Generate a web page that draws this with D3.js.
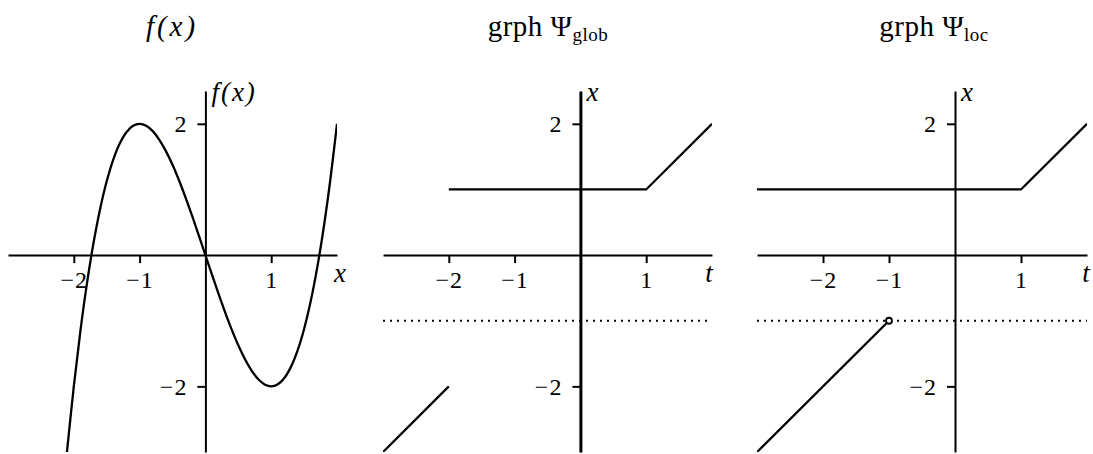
<!DOCTYPE html>
<html>
<head>
<meta charset="utf-8">
<script src="https://cdn.jsdelivr.net/npm/d3@7"></script>
<style>
  html, body { margin: 0; padding: 0; background: #fff; }
  svg { display: block; }
  text { font-family: "Liberation Serif", "DejaVu Serif", serif; fill: #000; }
  .it { font-style: italic; }
</style>
</head>
<body>
<svg id="chart" width="1093" height="454"></svg>
<script>
// Samples of f(x) = x^3 - 3x (left panel)
const curveX = [-2.11, -2.0, -1.9, -1.8, -1.7, -1.6, -1.5, -1.4, -1.3, -1.2, -1.1, -1.0,
  -0.9, -0.8, -0.7, -0.6, -0.5, -0.4, -0.3, -0.2, -0.1, 0,
  0.1, 0.2, 0.3, 0.4, 0.5, 0.6, 0.7, 0.8, 0.9, 1.0,
  1.1, 1.2, 1.3, 1.4, 1.5, 1.6, 1.7, 1.8, 1.9, 2.0];
const curveY = [-3.06, -2, -1.159, -0.432, 0.187, 0.704, 1.125, 1.456, 1.703, 1.872, 1.969, 2,
  1.971, 1.888, 1.757, 1.584, 1.375, 1.136, 0.873, 0.592, 0.299, 0,
  -0.299, -0.592, -0.873, -1.136, -1.375, -1.584, -1.757, -1.888, -1.971, -2,
  -1.969, -1.872, -1.703, -1.456, -1.125, -0.704, -0.187, 0.432, 1.159, 2];

// Graph of the global selection (middle panel)
const globUpperT = [-2, 1, 2];
const globUpperX = [1, 1, 2];
const globLowerT = [-3, -2];
const globLowerX = [-3, -2];

// Graph of the local selection (right panel)
const locUpperT = [-3, 1, 2];
const locUpperX = [1, 1, 2];
const locLowerT = [-3, -1];
const locLowerX = [-3, -1];
const locOpenT = [-1];
const locOpenX = [-1];

// Dotted reference level
const dottedLevel = -1;

const xTicks = [-2, -1, 1];
const yTicks = [2, -2];
const xDomain = [-3, 2];
const yDomain = [-3, 2.5];

const svg = d3.select("#chart");
const fmt = d => (d < 0 ? "\u2212" + Math.abs(d) : String(d));

function panel(cfg) {
  const x = d3.scaleLinear().domain(xDomain).range(cfg.xr);
  const y = d3.scaleLinear().domain(yDomain).range([452, 91]);
  const g = svg.append("g");

  const clipId = "clip" + cfg.id;
  svg.append("clipPath").attr("id", clipId).append("rect")
    .attr("x", cfg.xr[0]).attr("y", 91).attr("width", cfg.xr[1] - cfg.xr[0]).attr("height", 361);

  // x axis
  const ax = g.append("g").attr("transform", `translate(0,${y(0)})`)
    .call(d3.axisBottom(x).tickValues(xTicks).tickSize(8).tickSizeOuter(0).tickPadding(8).tickFormat(fmt));
  // y axis
  const ay = g.append("g").attr("transform", `translate(${x(0)},0)`)
    .call(d3.axisLeft(y).tickValues(yTicks).tickSize(8).tickSizeOuter(0).tickPadding(10).tickFormat(fmt));

  [ax, ay].forEach(a => {
    a.select(".domain").attr("stroke", "#000").attr("stroke-width", 2);
    a.selectAll(".tick line").attr("stroke", "#000").attr("stroke-width", 2);
    a.selectAll(".tick text").attr("font-size", 24).attr("letter-spacing", 1)
      .style("font-family", '"Liberation Serif", "DejaVu Serif", serif');
  });
  ay.select(".domain").attr("stroke-width", cfg.yAxisWidth);

  // axis names
  g.append("text").attr("class", "it").attr("x", cfg.xr[1] + cfg.xNameDx).attr("y", y(0) + 27)
    .attr("text-anchor", "middle").attr("font-size", 27).text(cfg.xName);
  g.append("text").attr("class", "it").attr("x", x(0) + 6).attr("y", 101)
    .attr("font-size", 27).attr("letter-spacing", 2).text(cfg.yName);

  // title
  const t = g.append("text").attr("x", cfg.titleX).attr("y", 36).attr("font-size", 29)
    .attr("text-anchor", "middle");
  cfg.title(t);

  const line = d3.line().x(d => x(d[0])).y(d => y(d[1]));
  return { g, x, y, line, clipId };
}

function draw(p, ts, xs, curve) {
  const pts = ts.map((t, i) => [t, xs[i]]);
  p.g.append("path").attr("clip-path", `url(#${p.clipId})`)
    .attr("d", p.line.curve(curve || d3.curveLinear)(pts))
    .attr("fill", "none").attr("stroke", "#000").attr("stroke-width", 2.3);
}

function dotted(p, xr) {
  p.g.append("line").attr("x1", xr[0]).attr("x2", xr[1])
    .attr("y1", p.y(dottedLevel)).attr("y2", p.y(dottedLevel))
    .attr("stroke", "#000").attr("stroke-width", 2).attr("stroke-dasharray", "2,5");
}

// Left: f(x)
const p1 = panel({
  id: 1, xr: [8, 337], yAxisWidth: 2, xName: "x", xNameDx: 3, yName: "f(x)", titleX: 172,
  title: t => t.append("tspan").attr("class", "it").attr("letter-spacing", 3).text("f(x)")
});
draw(p1, curveX, curveY, d3.curveCatmullRom);

// Middle: grph Ψ_glob
const p2 = panel({
  id: 2, xr: [383, 712], yAxisWidth: 3, xName: "t", xNameDx: -3, yName: "x", titleX: 548,
  title: t => {
    t.append("tspan").attr("letter-spacing", 0.5).text("grph \u03A8");
    t.append("tspan").attr("font-size", 19).attr("dy", 5).attr("letter-spacing", 0.5).text("glob");
  }
});
dotted(p2, [383, 712]);
draw(p2, globUpperT, globUpperX);
draw(p2, globLowerT, globLowerX);

// Right: grph Ψ_loc
const p3 = panel({
  id: 3, xr: [757, 1087], yAxisWidth: 2, xName: "t", xNameDx: -1, yName: "x", titleX: 934,
  title: t => {
    t.append("tspan").attr("letter-spacing", 0.5).text("grph \u03A8");
    t.append("tspan").attr("font-size", 19).attr("dy", 5).attr("letter-spacing", 0.5).text("loc");
  }
});
dotted(p3, [757, 1087]);
draw(p3, locUpperT, locUpperX);
draw(p3, locLowerT, locLowerX);
p3.g.selectAll("circle.open").data(locOpenT.map((t, i) => [t, locOpenX[i]])).enter()
  .append("circle").attr("class", "open")
  .attr("cx", d => p3.x(d[0])).attr("cy", d => p3.y(d[1])).attr("r", 3)
  .attr("fill", "#fff").attr("stroke", "#000").attr("stroke-width", 1.8);
</script>
</body>
</html>
